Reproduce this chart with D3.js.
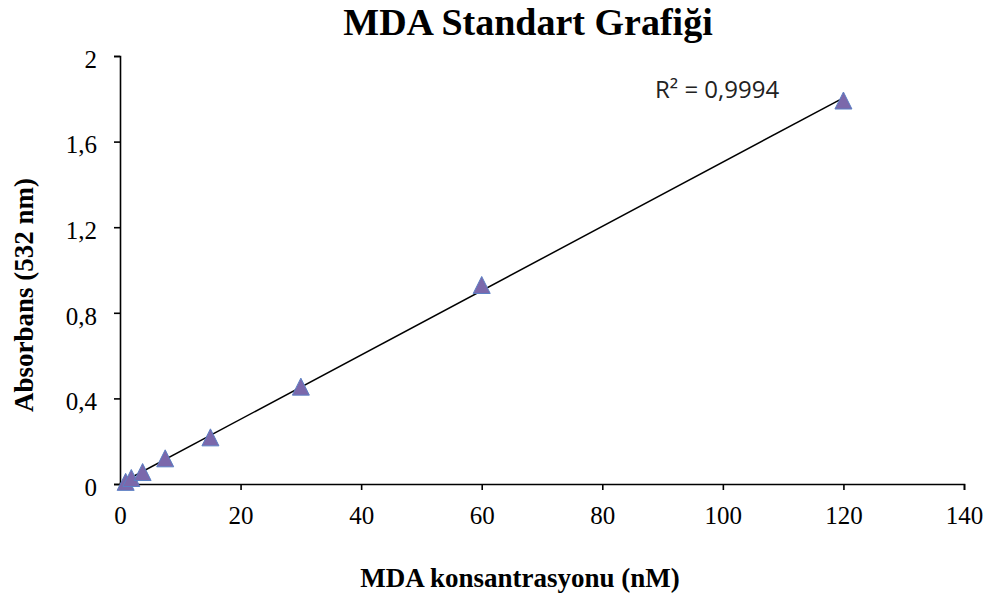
<!DOCTYPE html>
<html>
<head>
<meta charset="utf-8">
<script src="https://cdn.jsdelivr.net/npm/d3@7"></script>
<style>
    body { margin: 0; background: #fff; }
    svg { display: block; }
</style>
</head>
<body>
<svg width="992" height="599"></svg>
<script>
// konsantrasyon (nM) ve absorbans degerleri
const concentrations = [0.9375, 1.875, 3.75, 7.5, 15, 30, 60, 120];
const absorbances = [0.01, 0.028, 0.056, 0.12, 0.218, 0.455, 0.93, 1.792];
const xTicks = [0, 20, 40, 60, 80, 100, 120, 140];
const yTicks = [0, 0.4, 0.8, 1.2, 1.6, 2];
const r2Label = "R² = 0,9994";

const attr_area = {
    left: 120,
    right: 964,
    top: 56,
    bottom: 484
};

const svg = d3.select("svg");
const serif = "'Liberation Serif', 'Times New Roman', serif";

const scaleX = d3.scaleLinear().domain([0, 140]).range([attr_area.left, attr_area.right]);
const scaleY = d3.scaleLinear().domain([0, 2]).range([attr_area.bottom, attr_area.top]);

const fmt = d => String(d).replace(".", ",");

const gx = svg.append("g")
    .attr("transform", `translate(0, ${attr_area.bottom})`)
    .call(d3.axisBottom(scaleX).tickValues(xTicks).tickFormat(fmt).tickSize(6).tickPadding(16));

const gy = svg.append("g")
    .attr("transform", `translate(${attr_area.left}, 0)`)
    .call(d3.axisLeft(scaleY).tickValues(yTicks).tickFormat(fmt).tickSize(6).tickPadding(17));

[gx, gy].forEach(g => {
    g.select(".domain").attr("stroke", "#000").attr("stroke-width", 1.6);
    g.selectAll(".tick line").attr("stroke", "#000").attr("stroke-width", 1.6);
    g.selectAll("text")
        .attr("fill", "#000")
        .style("font-family", serif)
        .style("font-size", "25px");
});
gy.selectAll("text").attr("dy", "0.45em");

// trend line (least squares)
const mx = d3.mean(concentrations);
const my = d3.mean(absorbances);
let sxy = 0, sxx = 0;
concentrations.forEach((x, i) => {
    sxy += (x - mx) * (absorbances[i] - my);
    sxx += (x - mx) * (x - mx);
});
const slope = sxy / sxx;
const intercept = my - slope * mx;

svg.append("line")
    .attr("x1", scaleX(0))
    .attr("y1", scaleY(intercept))
    .attr("x2", scaleX(120))
    .attr("y2", scaleY(intercept + slope * 120))
    .attr("stroke", "#000")
    .attr("stroke-width", 1.5);

// triangle markers
const tri = (cx, cy) => {
    const w = 8.5, h = 8.5;
    return `M${cx},${cy - h}L${cx + w},${cy + h}L${cx - w},${cy + h}Z`;
};

svg.append("g")
    .selectAll("path")
    .data(concentrations)
    .enter()
    .append("path")
    .attr("d", (d, i) => tri(scaleX(d), scaleY(absorbances[i])))
    .attr("fill", "#7b68ab")
    .attr("stroke", "#5b7fc4")
    .attr("stroke-width", 1);

// texts
svg.append("text")
    .attr("x", 528)
    .attr("y", 35)
    .attr("text-anchor", "middle")
    .style("font-family", serif)
    .style("font-weight", "bold")
    .style("font-size", "38px")
    .text("MDA Standart Grafiği");

svg.append("text")
    .attr("x", 520)
    .attr("y", 587)
    .attr("text-anchor", "middle")
    .style("font-family", serif)
    .style("font-weight", "bold")
    .style("font-size", "27px")
    .text("MDA konsantrasyonu (nM)");

svg.append("text")
    .attr("transform", "translate(33, 295) rotate(-90)")
    .attr("text-anchor", "middle")
    .style("font-family", serif)
    .style("font-weight", "bold")
    .style("font-size", "27px")
    .text("Absorbans (532 nm)");

svg.append("text")
    .attr("x", 655)
    .attr("y", 98)
    .style("font-family", "'Open Sans', sans-serif")
    .style("font-size", "24px")
    .attr("fill", "#222")
    .text(r2Label);
</script>
</body>
</html>
